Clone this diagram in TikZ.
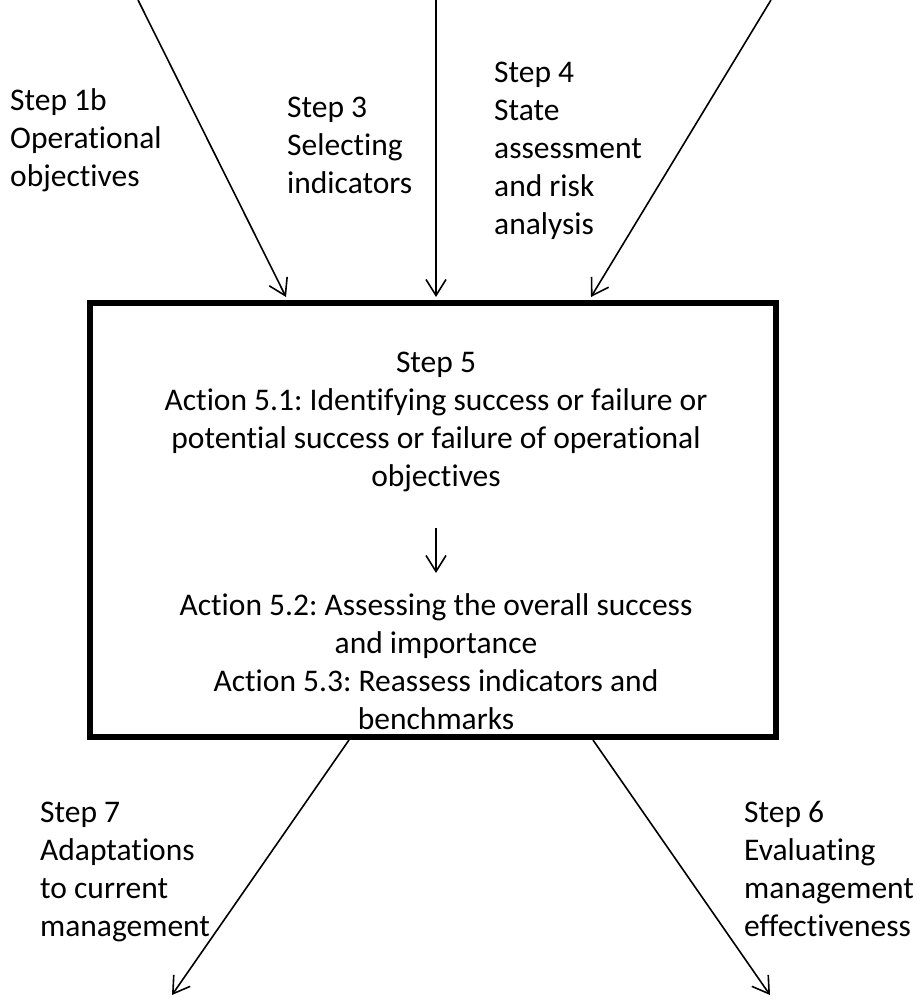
\documentclass[tikz,border=0pt]{standalone}
\usepackage{fontspec}
\setmainfont{Carlito}[Ligatures=NoCommon]
\usepackage{tikz}
\usetikzlibrary{arrows.meta}
\frenchspacing

\begin{document}
\begin{tikzpicture}[x=1pt, y=-1pt,
        label/.style={anchor=base west, align=left, inner sep=0pt,
            font=\fontsize{31.5}{38}\selectfont},
        inner/.style={anchor=base, align=center, inner sep=0pt,
            font=\fontsize{31.5}{38}\selectfont},
        flow/.style={-{Straight Barb[length=16pt, width=20pt]}, line width=1.6pt}]
        \useasboundingbox (0,0) rectangle (921,1001);

        % box of step 5
        \node[draw, line width=6pt, minimum width=686pt, minimum height=434pt,
            inner sep=0pt] (step5) at (433,520) {};

        % labels (placed by the baseline of their last line)
        \node[label] (s1b) at (10,186) {Step 1b\\Operational\\objectives};
        \node[label] (s3) at (287,193) {Step 3\\Selecting\\indicators};
        \node[label] (s4) at (494,234) {Step 4\\State\\assessment\\and risk\\analysis};
        \node[label] (s7) at (40,936) {Step 7\\Adaptations\\to current\\management};
        \node[label] (s6) at (744,936) {Step 6\\Evaluating\\management\\effectiveness};

        % text inside the box
        \node[inner] (act1) at (436,486) {Step 5\\Action 5.1: Identifying success or failure or\\potential success or failure of operational\\objectives};
        \node[inner] (act2) at (436,729) {Action 5.2: Assessing the overall success\\and importance\\Action 5.3: Reassess indicators and\\benchmarks};

        % ends of the arrows
        \coordinate (in1) at (138,0);
        \coordinate (in2) at (436,0);
        \coordinate (in3) at (771,0);
        \coordinate (tip1) at (286,297);
        \coordinate (tip2) at (436,297);
        \coordinate (tip3) at (591,297);
        \coordinate (mid1) at (436,528);
        \coordinate (mid2) at (436,573);
        \coordinate (out7) at (349,740);
        \coordinate (out6) at (593,740);
        \coordinate (end7) at (172,995);
        \coordinate (end6) at (770,995);

        % rays in
        \draw[flow] (in1) -- (tip1);
        \draw[flow] (in2) -- (tip2);
        \draw[flow] (in3) -- (tip3);

        % inside
        \draw[flow] (mid1) -- (mid2);

        % rays out
        \draw[flow] (out7) -- (end7);
        \draw[flow] (out6) -- (end6);
    \end{tikzpicture}
\end{document}
